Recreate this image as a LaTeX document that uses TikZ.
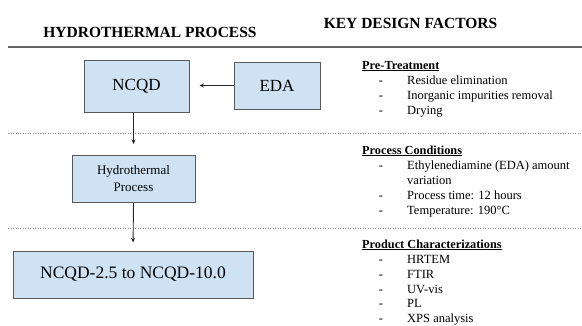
\documentclass[tikz,border=0pt]{standalone}
\usepackage{fontspec}
\setmainfont{LiberationSerif}[Extension=.ttf, UprightFont=*-Regular, BoldFont=*-Bold, ItalicFont=*-Italic, BoldItalicFont=*-BoldItalic]
\usetikzlibrary{arrows.meta}

\tikzset{
  procbox/.style={draw=black!65, line width=1pt, fill=boxblue, inner sep=0pt, align=center},
  flow/.style={draw=black!85, line width=0.9pt, -{Stealth[length=4.5pt,width=4pt]}},
  divider/.style={draw=black!45, line width=0.8pt, dash pattern=on 0.8pt off 1.7pt},
  heading/.style={anchor=base, inner sep=0pt, font=\fontsize{15.5}{18}\selectfont\bfseries},
  factorhead/.style={anchor=base west, inner sep=0pt, font=\fontsize{12.3}{15}\selectfont\bfseries},
  factoritem/.style={anchor=base west, inner sep=0pt, font=\fontsize{12.5}{15}\selectfont},
  bullet/.style={anchor=base, inner sep=0pt, font=\fontsize{12.5}{15}\selectfont}
}
\definecolor{boxblue}{HTML}{CFE2F3}

\begin{document}
\begin{tikzpicture}[x=1pt, y=-1pt]
\useasboundingbox (0,0) rectangle (582,325);

% column headings and rules
\node[heading] (hleft) at (150,37) {HYDROTHERMAL PROCESS};
\node[heading] (hright) at (410.5,28) {KEY DESIGN FACTORS};
\draw[draw=black!60, line width=1.4pt] (8,47) -- (582,47);
\draw[divider] (8,133.5) -- (582,133.5);
\draw[divider] (8,228) -- (582,228);

% process flow
\node[procbox, minimum width=105pt, minimum height=52pt, font=\fontsize{17}{20}\selectfont] (ncqd) at (136.5,86) {NCQD};
\node[procbox, minimum width=86pt, minimum height=47pt, font=\fontsize{17}{20}\selectfont] (eda) at (277,85.5) {EDA};
\node[procbox, minimum width=123pt, minimum height=47pt, font=\fontsize{13}{17}\selectfont] (hydro) at (133.5,179) {Hydrothermal\\Process};
\node[procbox, minimum width=240pt, minimum height=47pt, font=\fontsize{17.5}{20}\selectfont] (prod) at (133,274.5) {NCQD-2.5 to NCQD-10.0};

\draw[flow, shorten >=10pt] (eda.west) -- (eda.west -| ncqd.east);
\draw[flow, shorten >=11pt] (hydro.north |- ncqd.south) -- (hydro.north);
\draw[flow, shorten >=8pt] (hydro.south) -- (prod.north);

% design factors
\node[factorhead] (pt) at (362,69) {\underline{Pre-Treatment}};
\foreach \y/\t [count=\i] in {84/Residue elimination, 99/Inorganic impurities removal, 114/Drying}{
  \node[bullet] (ptd\i) at (381,\y) {-};
  \node[factoritem] (pti\i) at (407,\y) {\t};
}

\node[factorhead] (pc) at (362,154) {\underline{Process Conditions}};
\node[bullet] (pcd1) at (381,169) {-};
\node[factoritem] (pci1) at (407,169) {Ethylenediamine (EDA) amount};
\node[factoritem] (pci1b) at (407,184) {variation};
\node[bullet] (pcd2) at (381,199) {-};
\node[factoritem] (pci2) at (407,199) {Process time: 12 hours};
\node[bullet] (pcd3) at (381,214) {-};
\node[factoritem] (pci3) at (407,214) {Temperature: 190°C};

\node[factorhead] (pch) at (362,248) {\underline{Product Characterizations}};
\foreach \y/\t [count=\i] in {263/HRTEM, 278/FTIR, 293/UV-vis, 307.5/PL, 322/XPS analysis}{
  \node[bullet] (chd\i) at (381,\y) {-};
  \node[factoritem] (chi\i) at (407,\y) {\t};
}
\end{tikzpicture}
\end{document}
